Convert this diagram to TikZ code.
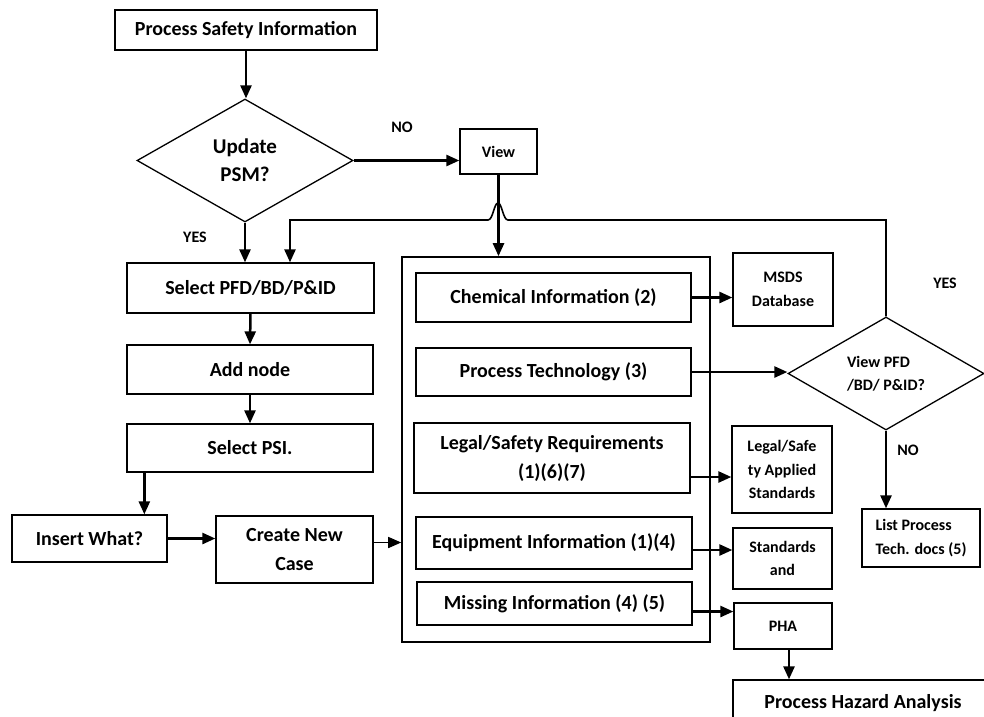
\documentclass[tikz,border=0pt]{standalone}
\usepackage{fontspec}
\setmainfont{Carlito}
\usetikzlibrary{arrows.meta,shapes.geometric,calc}

\begin{document}
\begin{tikzpicture}[x=1pt,y=-1pt,
  box/.style={draw, line width=1.3pt, inner sep=0pt, align=center, font=\bfseries\fontsize{20}{29}\selectfont},
  sbox/.style={draw, line width=1.3pt, inner sep=0pt, align=center, font=\bfseries\fontsize{16}{23.5}\selectfont},
  dec/.style={draw, diamond, line width=1.3pt, inner sep=0pt},
  lbl/.style={font=\bfseries\fontsize{16}{18}\selectfont, inner sep=0pt},
  arr/.style={line width=2.5pt, -{Triangle[length=13pt,width=11pt]}},
  tarr/.style={line width=1.6pt, -{Triangle[length=13pt,width=11pt]}},
  thinline/.style={line width=1.6pt}]
\useasboundingbox (0,0) rectangle (984,716);
\clip (0,0) rectangle (984,716);
\fill[white] (0,0) rectangle (984,716);

\node[box, minimum width=262, minimum height=40] (psi) at (246,30) {Process Safety Information};
\node[dec, aspect=1.75, minimum width=216, minimum height=123, align=center, font=\bfseries\fontsize{21}{28}\selectfont] (upd) at (245,160.5) {Update\\PSM?};
\node[sbox, minimum width=77, minimum height=45] (view) at (498.5,151.5) {View};
\node[box, minimum width=247, minimum height=50] (pfd) at (250.5,288) {Select PFD/BD/P\&ID};
\node[box, minimum width=246, minimum height=49] (add) at (250,369.5) {Add node};
\node[box, minimum width=246, minimum height=48] (spsi) at (250,448) {Select PSI.};
\node[box, minimum width=155, minimum height=47] (ins) at (89.5,538.5) {Insert What?};
\node[box, minimum width=157, minimum height=67] (create) at (294.5,549.5) {Create New\\Case};
\node[draw, thinline, minimum width=308, minimum height=385, inner sep=0pt] (cont) at (556,449.5) {};
\node[box, minimum width=275, minimum height=49] (chem) at (553.5,297.5) {Chemical Information (2)};
\node[box, minimum width=275, minimum height=48] (proc) at (553.5,372) {Process Technology (3)};
\node[box, minimum width=276, minimum height=70] (legal) at (552,458) {Legal/Safety Requirements\\(1)(6)(7)};
\node[box, minimum width=276, minimum height=52] (equip) at (554,543) {Equipment Information (1)(4)};
\node[box, minimum width=275, minimum height=43] (miss) at (554.5,603.5) {Missing Information (4) (5)};
\node[sbox, minimum width=100, minimum height=73] (msds) at (783,289.5) {MSDS\\Database};
\node[dec, aspect=1.73, minimum width=196, minimum height=113, align=left, font=\bfseries\fontsize{16}{23.5}\selectfont] (vpfd) at (886,373.5) {View PFD\\/BD/ P\&ID?};
\node[sbox, minimum width=100, minimum height=87] (lstd) at (782,469.5) {Legal/Safe\\ty Applied\\Standards};
\node[sbox, minimum width=99, minimum height=61] (stds) at (782.5,558.5) {Standards\\and};
\node[sbox, minimum width=98, minimum height=46] (pha) at (783,626) {PHA};
\node[box, minimum width=260, minimum height=46] (haz) at (863,703) {Process Hazard Analysis};
\node[sbox, minimum width=118, minimum height=58, align=left] (list) at (921,538) {List Process\\Tech. docs (5)};

\node[lbl] (no1) at (402,127) {NO};
\node[lbl] (yes1) at (195,237) {YES};
\node[lbl] (yes2) at (945,283) {YES};
\node[lbl] (no2) at (908,450) {NO};

% connectors
\draw[arr] (psi.south) -- (psi.south |- upd.north);
\draw[arr] (upd.east) -- (upd.east -| view.west);
\draw[arr] (upd.south) -- (upd.south |- pfd.north);
\draw[arr] (pfd.south) -- (add.north);
\draw[arr] (add.south) -- (spsi.north);
\draw[arr] ([xshift=18pt]spsi.south west) -- ([xshift=18pt]spsi.south west |- ins.north);
\draw[arr] (ins.east) -- (ins.east -| create.west);
\draw[tarr] ([yshift=7pt]create.east) -- ([yshift=7pt]create.east -| cont.west);
\draw[arr] (view.south) -- (view.south |- cont.north);
\draw[thinline] (vpfd.north) -- (vpfd.north |- 0,220) -- (508,220)
  .. controls (503,220) and (502,203) .. (498,203)
  .. controls (494,203) and (493,220) .. (488,220) -- (290,220);
\draw[arr] (290,219.2) -- (pfd.north -| 290,0);
\draw[arr] (chem.east) -- (chem.east -| msds.west);
\draw[arr] (proc.east) -- (proc.east -| vpfd.west);
\draw[arr] ([yshift=-19pt]legal.east) -- ([yshift=-19pt]legal.east -| lstd.west);
\draw[arr] ([yshift=-7pt]equip.east) -- ([yshift=-7pt]equip.east -| stds.west);
\draw[arr] ([yshift=-8pt]miss.east) -- ([yshift=-8pt]miss.east -| pha.west);
\draw[arr] ([xshift=6pt]pha.south) -- ([xshift=6pt]pha.south |- haz.north);
\draw[arr] (vpfd.south) -- (vpfd.south |- list.north);
\end{tikzpicture}
\end{document}
